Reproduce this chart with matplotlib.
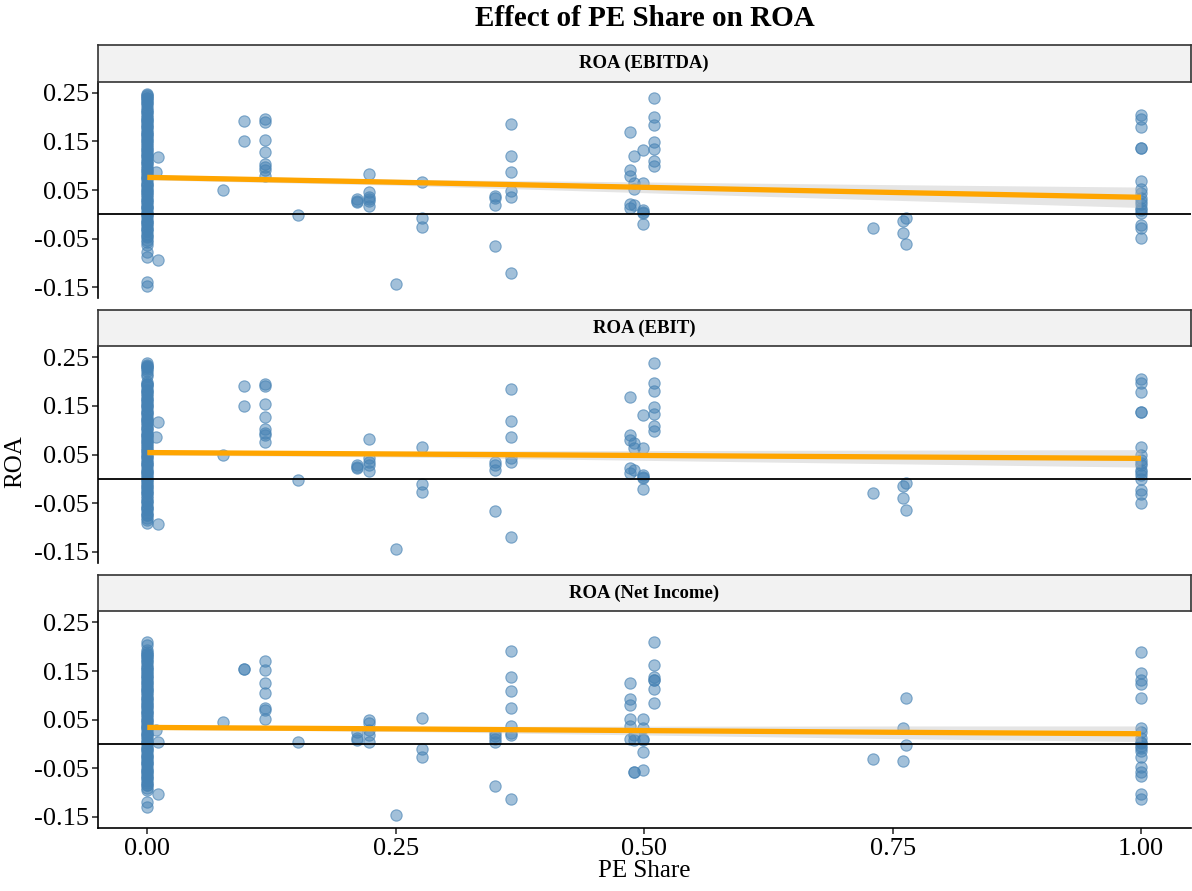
import matplotlib.pyplot as plt

# Police serif type Times
plt.rcParams['font.family'] = ['Liberation Serif', 'DejaVu Serif']

titre = "Effect of PE Share on ROA"
panneaux = ["ROA (EBITDA)", "ROA (EBIT)", "ROA (Net Income)"]
y_ticks = [-0.15, -0.05, 0.05, 0.15, 0.25]
x_ticks = [0.0, 0.25, 0.5, 0.75, 1.0]

# Points : part PE -> liste de ROA
ebitda = {
    0.0: [0.248, 0.246, 0.243, 0.240, 0.236, 0.232, 0.228, 0.224, 0.219, 0.214, 0.210,
          0.205, 0.201, 0.197, 0.192, 0.188, 0.183, 0.179, 0.174, 0.170, 0.165, 0.161,
          0.156, 0.152, 0.147, 0.142, 0.138, 0.133, 0.128, 0.124, 0.119, 0.114, 0.110,
          0.105, 0.100, 0.095, 0.091, 0.086, 0.081, 0.077, 0.072, 0.067, 0.063, 0.058,
          0.053, 0.049, 0.044, 0.039, 0.035, 0.030, 0.026, 0.021, 0.016, 0.012, 0.007,
          0.003, -0.002, -0.006, -0.011, -0.016, -0.020, -0.025, -0.030, -0.035, -0.040,
          -0.046, -0.052, -0.058, -0.063, -0.078, -0.088, -0.140, -0.148,
          0.240, 0.210, 0.195, 0.180, 0.165, 0.150, 0.135, 0.120, 0.105, 0.090, 0.075,
          0.060, 0.045, 0.030, 0.015, 0.000, -0.015, -0.030, -0.045],
    0.0085: [0.087],
    0.011: [0.118, -0.093],
    0.076: [0.050],
    0.097: [0.191, 0.150],
    0.118: [0.196, 0.190, 0.153, 0.128, 0.104, 0.097, 0.091, 0.079],
    0.152: [-0.002],
    0.211: [0.031, 0.025, 0.028],
    0.223: [0.083, 0.045, 0.035, 0.031, 0.027, 0.018],
    0.250: [-0.144],
    0.276: [0.067, -0.008, -0.026],
    0.350: [0.038, 0.033, 0.019, -0.065],
    0.366: [0.186, 0.120, 0.088, 0.047, 0.036, -0.120],
    0.486: [0.169, 0.091, 0.079, 0.022, 0.012],
    0.490: [0.119, 0.065, 0.053, 0.019],
    0.499: [0.132, 0.064, 0.009, 0.002, -0.019, 0.005],
    0.510: [0.239, 0.200, 0.183, 0.148, 0.134, 0.110, 0.100],
    0.730: [-0.029],
    0.760: [-0.014, -0.038],
    0.764: [-0.008, -0.062],
    1.0: [0.205, 0.196, 0.179, 0.137, 0.137, 0.069, 0.053, 0.043, 0.033, 0.022,
          0.012, 0.002, 0.028, 0.008, -0.022, -0.029, -0.048],
}

ebit = {
    0.0: [0.238, 0.235, 0.232, 0.229, 0.225, 0.221, 0.216, 0.211, 0.200, 0.196,
          0.192, 0.188, 0.183, 0.179, 0.174, 0.170, 0.165, 0.161, 0.156, 0.152, 0.147,
          0.142, 0.138, 0.133, 0.128, 0.124, 0.119, 0.114, 0.110, 0.105, 0.100, 0.095,
          0.091, 0.086, 0.081, 0.077, 0.072, 0.067, 0.063, 0.058, 0.053, 0.049, 0.044,
          0.039, 0.035, 0.030, 0.026, 0.021, 0.016, 0.012, 0.007, 0.003, -0.002, -0.006,
          -0.011, -0.016, -0.020, -0.025, -0.030, -0.035, -0.040, -0.045, -0.050,
          -0.055, -0.060, -0.065, -0.070, -0.075, -0.080, -0.085, -0.090,
          0.230, 0.195, 0.180, 0.165, 0.150, 0.135, 0.120, 0.105, 0.090, 0.075, 0.060,
          0.045, 0.030, 0.015, 0.000, -0.015, -0.030, -0.045, -0.060, -0.075],
    0.0085: [0.086],
    0.011: [0.116, -0.094],
    0.076: [0.048],
    0.097: [0.191, 0.149],
    0.118: [0.196, 0.190, 0.153, 0.127, 0.102, 0.095, 0.090, 0.076],
    0.152: [-0.002],
    0.211: [0.028, 0.022, 0.025],
    0.223: [0.082, 0.042, 0.035, 0.028, 0.017],
    0.250: [-0.145],
    0.276: [0.066, -0.011, -0.028],
    0.350: [0.035, 0.028, 0.018, -0.066],
    0.366: [0.184, 0.119, 0.086, 0.042, 0.035, -0.120],
    0.486: [0.168, 0.090, 0.080, 0.022, 0.011],
    0.490: [0.073, 0.063, 0.018],
    0.499: [0.131, 0.063, 0.008, 0.001, -0.020, 0.004],
    0.510: [0.238, 0.198, 0.181, 0.147, 0.133, 0.109, 0.098],
    0.730: [-0.030],
    0.760: [-0.015, -0.039],
    0.764: [-0.009, -0.064],
    1.0: [0.205, 0.198, 0.178, 0.137, 0.137, 0.066, 0.049, 0.039, 0.028, 0.018,
          0.008, -0.001, 0.033, 0.013, -0.023, -0.031, -0.050],
}

net_income = {
    0.0: [0.210, 0.204, 0.194, 0.190, 0.186, 0.182, 0.178, 0.174, 0.168, 0.163,
          0.158, 0.154, 0.149, 0.145, 0.140, 0.136, 0.131, 0.127, 0.122, 0.118, 0.113,
          0.109, 0.104, 0.100, 0.095, 0.091, 0.086, 0.082, 0.077, 0.073, 0.068, 0.064,
          0.059, 0.055, 0.050, 0.046, 0.041, 0.037, 0.032, 0.028, 0.023, 0.019, 0.014,
          0.010, 0.005, 0.001, -0.004, -0.008, -0.013, -0.017, -0.022, -0.026, -0.031,
          -0.035, -0.040, -0.044, -0.049, -0.053, -0.058, -0.062, -0.067, -0.071,
          -0.076, -0.080, -0.085, -0.090, -0.095, -0.119, -0.129,
          0.185, 0.170, 0.155, 0.140, 0.125, 0.110, 0.095, 0.080, 0.065, 0.050, 0.035,
          0.020, 0.005, -0.010, -0.025, -0.040, -0.055, -0.070, -0.085],
    0.0085: [0.029],
    0.011: [0.003, -0.102],
    0.076: [0.045],
    0.097: [0.154, 0.154],
    0.118: [0.170, 0.153, 0.125, 0.104, 0.073, 0.069, 0.051],
    0.152: [0.003],
    0.211: [0.025, 0.013, 0.008],
    0.223: [0.049, 0.043, 0.029, 0.019, 0.005],
    0.250: [-0.147],
    0.276: [0.053, -0.010, -0.027],
    0.350: [0.022, 0.016, 0.010, 0.005, -0.086],
    0.366: [0.192, 0.137, 0.109, 0.075, 0.036, 0.022, 0.019, -0.114],
    0.486: [0.125, 0.092, 0.080, 0.051, 0.036, 0.010],
    0.490: [0.019, 0.008, -0.057, -0.057],
    0.499: [0.051, 0.032, 0.008, 0.010, -0.016, -0.053],
    0.510: [0.210, 0.162, 0.137, 0.132, 0.132, 0.113, 0.085],
    0.730: [-0.031],
    0.760: [0.032, -0.036],
    0.764: [0.094, -0.003],
    1.0: [0.189, 0.147, 0.132, 0.123, 0.094, 0.032, 0.025, 0.012, 0.001, -0.009,
          0.005, -0.004, -0.015, -0.026, -0.047, -0.057, -0.067, -0.103, -0.114],
}

series = [ebitda, ebit, net_income]

# Droite de régression (lm) et intervalle de confiance
fit_x = [0.0, 0.25, 0.5, 0.75, 1.0]
fit_y = [
    [0.076, 0.066, 0.0555, 0.045, 0.035],
    [0.054, 0.051, 0.048, 0.045, 0.042],
    [0.034, 0.031, 0.0275, 0.024, 0.021],
]
fit_demi = [
    [0.005, 0.006, 0.011, 0.016, 0.021],
    [0.005, 0.006, 0.010, 0.014, 0.018],
    [0.004, 0.005, 0.009, 0.013, 0.016],
]

W, H = 1192, 891
fig = plt.figure(figsize=(W / 100, H / 100), dpi=100)

gauche, droite = 97.6, 1190.7
panneau_px = [(81.6, 298.4), (346.1, 562.9), (611.3, 828.0)]
bande_px = [(45.0, 81.6), (310.0, 346.1), (575.0, 611.3)]


def boite(haut, bas):
    return [gauche / W, 1 - bas / H, (droite - gauche) / W, (bas - haut) / H]


bleu = (70 / 255, 130 / 255, 180 / 255)

for i, donnees in enumerate(series):
    ax = fig.add_axes(boite(*panneau_px[i]))
    xs, ys = [], []
    for pe, valeurs in donnees.items():
        xs += [pe] * len(valeurs)
        ys += valeurs
    ax.scatter(xs, ys, s=66, facecolor=bleu + (0.5,), edgecolor=bleu + (0.65,),
               linewidths=0.8, zorder=2)

    bas = [y - d for y, d in zip(fit_y[i], fit_demi[i])]
    haut = [y + d for y, d in zip(fit_y[i], fit_demi[i])]
    ax.fill_between(fit_x, bas, haut, color='#BEBEBE', alpha=0.4, lw=0, zorder=3)
    ax.plot(fit_x, fit_y[i], color='#FFA500', lw=3.8, zorder=4, solid_capstyle='butt')
    ax.axhline(0, color='black', lw=1.3, zorder=5)

    ax.set_xlim(-0.05, 1.05)
    ax.set_ylim(-0.173, 0.273)
    ax.set_yticks(y_ticks)
    ax.set_yticklabels([f"{v:.2f}" for v in y_ticks], fontsize=19)
    ax.tick_params(axis='y', length=4, width=1.2, color='#333333', pad=2)
    for cote in ['top', 'right']:
        ax.spines[cote].set_visible(False)
    ax.spines['left'].set_linewidth(1.2)
    if i < 2:
        ax.spines['bottom'].set_visible(False)
        ax.set_xticks([])
    else:
        ax.spines['bottom'].set_linewidth(1.2)
        ax.set_xticks(x_ticks)
        ax.set_xticklabels([f"{v:.2f}" for v in x_ticks], fontsize=19)
        ax.tick_params(axis='x', length=4, width=1.2, color='#333333', pad=3)
        ax.set_xlabel("PE Share", fontsize=18, labelpad=0)

    # Bandeau du panneau
    st = fig.add_axes(boite(*bande_px[i]))
    st.set_facecolor('#F2F2F2')
    st.set_xticks([])
    st.set_yticks([])
    for sp in st.spines.values():
        sp.set_color('#333333')
        sp.set_linewidth(1.2)
    st.text(0.5, 0.5, panneaux[i], ha='center', va='center', fontsize=13.5,
            fontweight='bold', transform=st.transAxes)

fig.text(15 / W, 1 - 462 / H, "ROA", rotation=90, ha='center', va='center', fontsize=18)
fig.text(645 / W, 1 - 18 / H, titre, ha='center', va='center', fontsize=21,
         fontweight='bold')

plt.savefig("out.png", dpi=100)
